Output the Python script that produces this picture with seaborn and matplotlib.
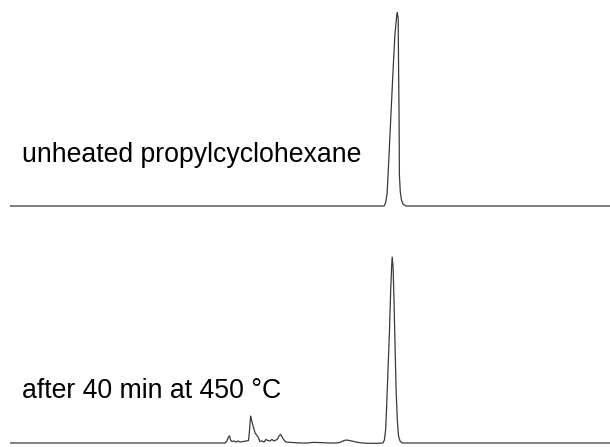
import matplotlib
matplotlib.use("Agg")
import matplotlib.pyplot as plt
import seaborn as sns
import pandas as pd

# Retention time (min) and detector signal (% of main peak)
time_unheated = [0.0, 12.47, 12.52, 12.57, 12.63, 12.70, 12.77, 12.83, 12.89, 12.91,
                 12.94, 12.95, 12.97, 12.98, 13.01, 13.05, 13.10, 13.20, 20.0]
signal_unheated = [0.0, 0.0, 1.6, 6.5, 25.0, 48.0, 70.5, 88.5, 98.5, 100.0,
                   97.0, 75.5, 44.5, 16.0, 7.2, 3.1, 1.0, 0.0, 0.0]

time_heated = [0.0, 7.17, 7.23, 7.28, 7.32, 7.35, 7.40, 7.47, 7.53, 7.60, 7.67,
               7.77, 7.87, 7.95, 7.98, 8.02, 8.05, 8.12, 8.17, 8.27, 8.33, 8.40,
               8.47, 8.53, 8.60, 8.67, 8.73, 8.80, 8.87, 8.92, 8.97, 9.02, 9.07,
               9.13, 9.20, 9.67, 9.93, 10.07, 10.20, 10.67, 10.87, 11.00, 11.10,
               11.20, 11.33, 11.47, 11.60, 11.83, 12.17, 12.33,
               12.43, 12.48, 12.52, 12.55, 12.60, 12.65, 12.69, 12.72, 12.74,
               12.77, 12.80, 12.83, 12.87, 12.91, 12.95, 13.00, 13.07, 13.33, 20.0]
signal_heated = [0.0, 0.0, 1.1, 3.2, 3.8, 1.6, 0.8, 1.1, 0.5, 1.1, 0.5,
                 0.8, 1.1, 1.3, 5.9, 14.5, 12.4, 8.1, 5.4, 3.2, 0.8, 1.1,
                 0.5, 1.9, 1.3, 1.1, 1.9, 1.1, 1.6, 2.2, 3.8, 4.6, 3.2,
                 1.6, 0.5, 0.0, 0.0, 0.3, 0.3, 0.0, 0.0, 0.3, 1.1,
                 1.6, 1.3, 0.8, 0.3, -0.1, -0.2, -0.1,
                 0.0, 1.6, 7.0, 17.7, 39.2, 60.8, 82.3, 94.5, 100.0,
                 94.5, 76.9, 55.4, 28.5, 12.4, 3.8, 1.1, 0.0, 0.0, 0.0]

labels = ["unheated propylcyclohexane", "after 40 min at 450 °C"]

sns.set_theme(style="white")
plt.rcParams["font.family"] = ["Liberation Sans", "DejaVu Sans"]

W, H = 610, 447
fig = plt.figure(figsize=(W / 100, H / 100), dpi=100)

def px_axes(y_top, y_bot):
    return fig.add_axes([10 / W, 1 - y_bot / H, 600 / W, (y_bot - y_top) / H])

ax1 = px_axes(0, 215)
ax2 = px_axes(230, 447)

df1 = pd.DataFrame({"t": time_unheated, "s": signal_unheated})
df2 = pd.DataFrame({"t": time_heated, "s": signal_heated})

line_kw = dict(color="#3a3a3a", linewidth=0.9)
sns.lineplot(data=df1, x="t", y="s", ax=ax1, **line_kw)
sns.lineplot(data=df2, x="t", y="s", ax=ax2, **line_kw)

# baseline at y=206 px, apex at 12.7 px
ax1.set_ylim(-(215 - 206) / 1.933, 100 + 12.7 / 1.933)
# baseline at y=443 px, apex at 257 px
ax2.set_ylim(-(447 - 443) / 1.86, 100 + (257 - 230) / 1.86)

for ax in (ax1, ax2):
    ax.set_xlim(0, 20)
    ax.set_axis_off()

fig.text(22 / W, 1 - 162 / H, labels[0], fontsize=19.2, va="baseline", ha="left", color="black")
fig.text(22 / W, 1 - 398 / H, labels[1], fontsize=19.2, va="baseline", ha="left", color="black")

fig.savefig("out.png", dpi=100)
